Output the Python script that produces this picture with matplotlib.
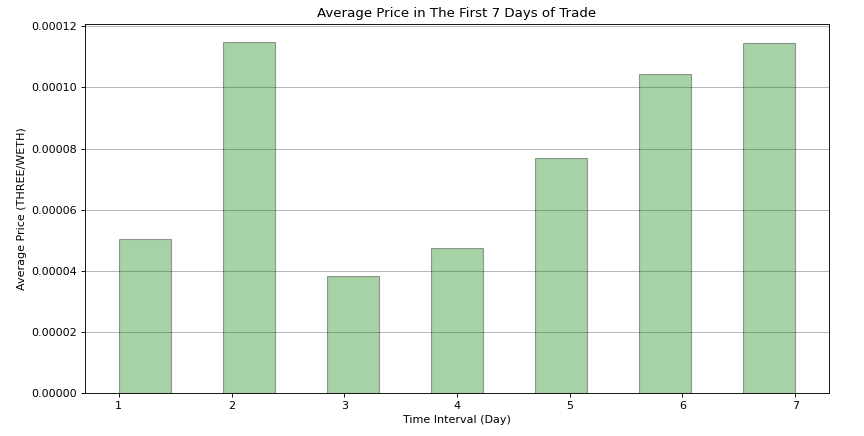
import numpy as np
import matplotlib
matplotlib.use("Agg")
import matplotlib.pyplot as plt

days = [1, 2, 3, 4, 5, 6, 7]
avg_price = [0.0000505, 0.0001150, 0.0000384, 0.0000476, 0.0000770, 0.0001043, 0.0001144]
tick_labels = [str(d) for d in days]

DPI = 80
fig = plt.figure(figsize=(864 / DPI, 436 / DPI), dpi=DPI)
ax = fig.add_axes([85 / 864, (436 - 393) / 436, (829 - 85) / 864, (393 - 24) / 436])

pos = np.arange(len(days))
ax.bar(pos, avg_price, width=0.5, color="green", edgecolor="black", alpha=0.35, linewidth=1)
ax.set_xticks(np.linspace(pos[0] - 0.25, pos[-1] + 0.25, len(days)))
ax.set_xticklabels(tick_labels)
ax.grid(axis="y")
ax.set_axisbelow(True)

ax.set_title("Average Price in The First 7 Days of Trade", fontsize=12)
ax.set_xlabel("Time Interval (Day)")
ax.set_ylabel("Average Price (THREE/WETH)")

fig.savefig("out.png", dpi=DPI)
